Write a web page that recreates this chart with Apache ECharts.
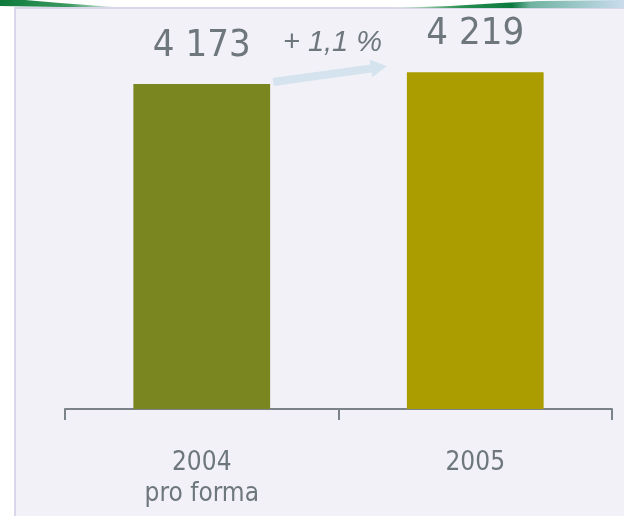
<!DOCTYPE html>
<html>
<head>
<meta charset="utf-8">
<script src="https://cdn.jsdelivr.net/npm/echarts@6/dist/echarts.min.js"></script>
<style>
html,body{margin:0;padding:0;background:#fff;}
#chart{width:624px;height:516px;}
</style>
</head>
<body>
<div id="chart"></div>
<script>
// chiffres 2004 pro forma / 2005
var categories = ['2004\npro forma', '2005'];
var values = [4173, 4219];
var valueLabels = ['4 173', '4 219'];
var barColors = ['#7a861f', '#ab9c00'];
var growthLabel = '+ 1,1 %';

var txtColor = '#6e787c';
var font = '"Liberation Sans Narrow", "DejaVu Sans Condensed", "Liberation Sans", Arial, sans-serif';

var chart = echarts.init(document.getElementById('chart'));

var option = {
    backgroundColor: '#ffffff',
    animation: false,
    grid: {left: 65, right: 12, top: 26, bottom: 107},
    xAxis: {
        type: 'category',
        data: categories,
        axisLine: {lineStyle: {color: '#7b8288', width: 2}},
        axisTick: {show: true, length: 11, lineStyle: {color: '#7b8288', width: 2}},
        axisLabel: {
            color: txtColor, fontSize: 26, fontFamily: font,
            lineHeight: 31, margin: 39
        }
    },
    yAxis: {
        type: 'value',
        min: 2900,
        max: 4400,
        show: false
    },
    series: [{
        type: 'bar',
        barWidth: '50%',
        data: values.map(function(v, i){
            return {value: v, itemStyle: {color: barColors[i]}};
        }),
        label: {
            show: true,
            position: 'top',
            distance: 19,
            color: txtColor,
            fontSize: 38,
            fontFamily: font,
            formatter: function(p){ return valueLabels[p.dataIndex]; }
        }
    }]
};
chart.setOption(option);

// fond, bandeau et flèche placés à partir des barres
var p1 = chart.convertToPixel({gridIndex: 0}, [0, values[0]]);
var p2 = chart.convertToPixel({gridIndex: 0}, [1, values[1]]);
var half = 137 / 2;
var x1 = p1[0] + half + 3, y1 = p1[1] - 2;
var x2 = p2[0] - half - 20, y2 = p2[1] - 6;
var ang = Math.atan2(y2 - y1, x2 - x1);
var head = 16;
var bx = x2 - head * Math.cos(ang), by = y2 - head * Math.sin(ang);
var nx = -Math.sin(ang), ny = Math.cos(ang);

chart.setOption({
    graphic: [
        {type: 'rect', z: -10, silent: true,
         shape: {x: 15, y: 8, width: 620, height: 520},
         style: {fill: '#f2f1f7', stroke: '#d9d5ea', lineWidth: 2}},
        {type: 'polygon', z: -5, silent: true,
         shape: {points: [[0, 0], [0, 6], [60, 7], [115, 7], [60, 3], [25, 0]]},
         style: {fill: new echarts.graphic.LinearGradient(0, 0, 1, 0, [
             {offset: 0, color: '#0e7a3c'}, {offset: 0.6, color: '#3d9a62'}, {offset: 1, color: '#e6f1ea'}])}},
        {type: 'polygon', z: -5, silent: true,
         shape: {points: [[390, 8], [624, 8], [624, 0], [540, 1], [500, 3], [450, 6]]},
         style: {fill: new echarts.graphic.LinearGradient(0, 0, 1, 0, [
             {offset: 0, color: '#f4f8f5'}, {offset: 0.3, color: '#2a8f52'},
             {offset: 0.52, color: '#0b7a3f'}, {offset: 0.6, color: '#6fb2a0'},
             {offset: 1, color: '#c9dcee'}])}},
        {type: 'polygon', z: 5, silent: true,
         shape: {points: [
             [x1 + nx * 4, y1 + ny * 4], [bx + nx * 4, by + ny * 4], [bx + nx * 9, by + ny * 9],
             [x2, y2],
             [bx - nx * 9, by - ny * 9], [bx - nx * 4, by - ny * 4], [x1 - nx * 4, y1 - ny * 4]]},
         style: {fill: '#d5e3ef'}},
        {type: 'text', z: 6, silent: true,
         x: (p1[0] + p2[0]) / 2 - 6, y: 43,
         style: {text: growthLabel, fill: txtColor, fontSize: 29, fontStyle: 'italic',
                 fontFamily: '"Liberation Sans", Arial, sans-serif',
                 align: 'center', verticalAlign: 'middle'}}
    ]
});
</script>
</body>
</html>
